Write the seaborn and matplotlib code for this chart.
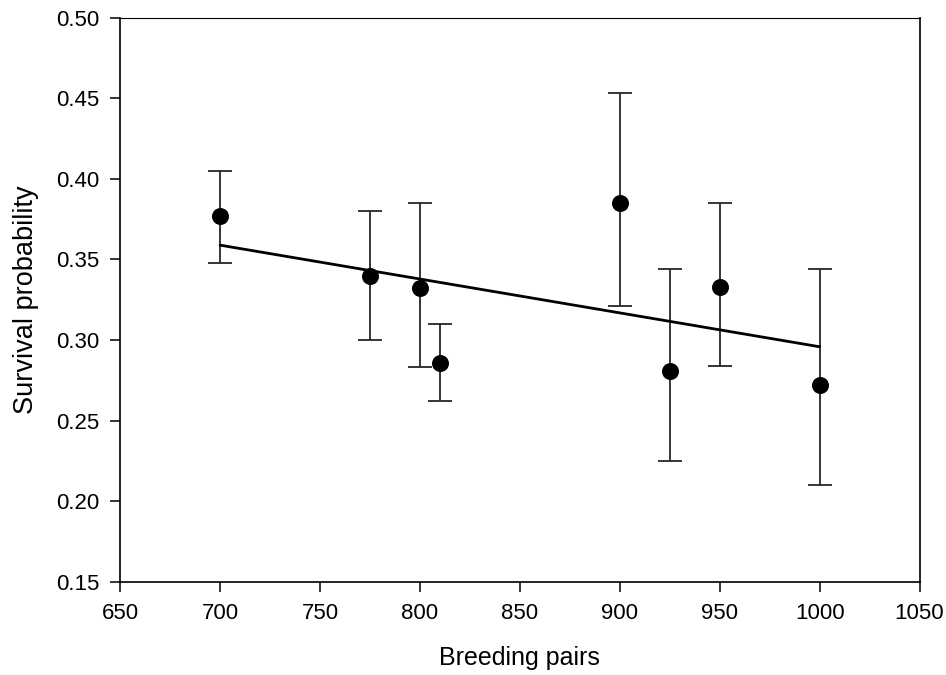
import numpy as np
import pandas as pd
import matplotlib
matplotlib.use('Agg')
import matplotlib.pyplot as plt
import seaborn as sns

# Data
breeding_pairs = [700, 775, 800, 810, 900, 925, 950, 1000]
survival = [0.377, 0.340, 0.332, 0.286, 0.385, 0.281, 0.333, 0.272]
ci_upper = [0.405, 0.380, 0.385, 0.310, 0.453, 0.344, 0.385, 0.344]
ci_lower = [0.348, 0.300, 0.283, 0.262, 0.321, 0.225, 0.284, 0.210]

x_ticks = [650, 700, 750, 800, 850, 900, 950, 1000, 1050]
y_ticks = [0.15, 0.20, 0.25, 0.30, 0.35, 0.40, 0.45, 0.50]

df = pd.DataFrame({'pairs': breeding_pairs, 'survival': survival,
                   'upper': ci_upper, 'lower': ci_lower})

sns.set_style('ticks')
plt.rcParams['font.family'] = ['Liberation Sans', 'DejaVu Sans']

fig = plt.figure(figsize=(9.46, 6.75), dpi=100)
ax = fig.add_axes([0.127, 0.138, 0.845, 0.836])

# Error bars (asymmetric)
yerr = np.array([df['survival'] - df['lower'], df['upper'] - df['survival']])
ax.errorbar(df['pairs'], df['survival'], yerr=yerr, fmt='none',
            ecolor='#262626', elinewidth=1.3, capsize=8.5, capthick=1.3, zorder=2)

# Linear regression line
sns.regplot(data=df, x='pairs', y='survival', ci=None, scatter=False, ax=ax,
            line_kws={'color': 'black', 'linewidth': 2.0, 'zorder': 3})

# Points
sns.scatterplot(data=df, x='pairs', y='survival', ax=ax, color='black',
                s=150, edgecolor='black', linewidth=0, zorder=4)

ax.set_xlim(650, 1050)
ax.set_ylim(0.15, 0.50)
ax.set_xticks(x_ticks)
ax.set_yticks(y_ticks)
ax.set_yticklabels([f'{v:.2f}' for v in y_ticks])
ax.tick_params(axis='both', direction='out', length=7, width=1.1,
               labelsize=16, colors='black', pad=8)
ax.tick_params(top=False, right=False)
for side in ['left', 'bottom', 'right']:
    ax.spines[side].set_linewidth(1.2)
    ax.spines[side].set_color('black')
ax.spines['top'].set_linewidth(0.8)
ax.spines['top'].set_color('black')

ax.set_xlabel('Breeding pairs', fontsize=18, labelpad=16, color='black')
ax.set_ylabel('Survival probability', fontsize=19.5, labelpad=12, color='black')

fig.savefig('out.png', dpi=100)
plt.close(fig)
